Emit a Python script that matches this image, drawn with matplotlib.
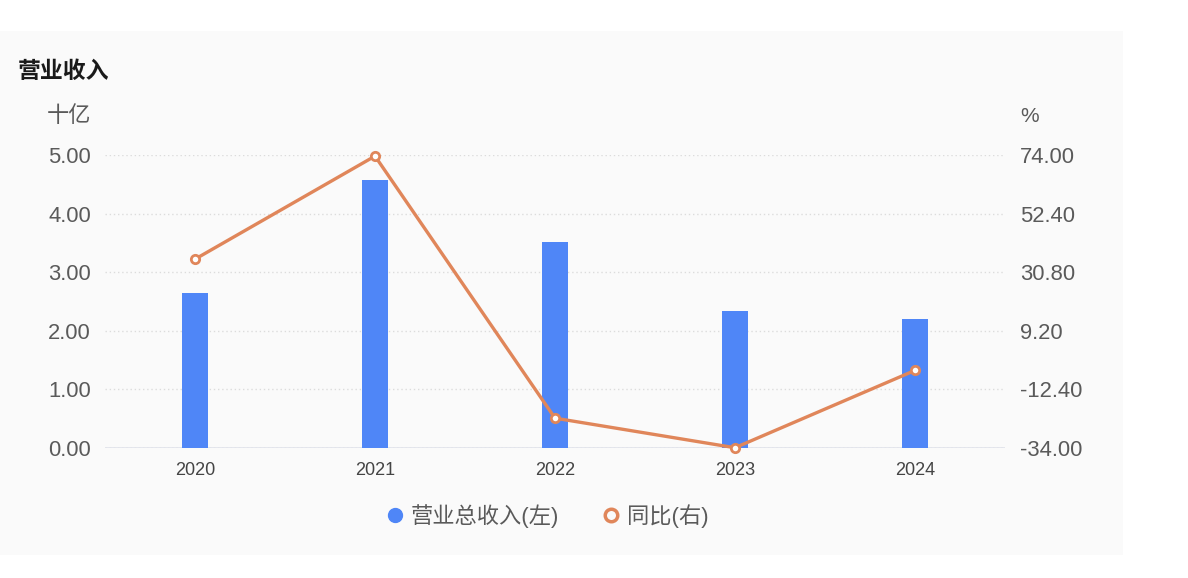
import matplotlib.pyplot as plt
import matplotlib.patches as mpatches
from matplotlib.lines import Line2D

plt.rcParams['font.family'] = ['Liberation Sans', 'Noto Sans CJK SC', 'DejaVu Sans']

years = ['2020', '2021', '2022', '2023', '2024']
revenue = [2.65, 4.58, 3.52, 2.33, 2.20]       # 十亿
yoy = [35.6, 73.6, -23.0, -33.9, -5.4]          # %

left_ticks = [0, 1, 2, 3, 4, 5]
right_ticks = [-34.0, -12.4, 9.2, 30.8, 52.4, 74.0]

bar_color = '#4f86f7'
line_color = '#e0865a'
text_color = '#5a5a5a'

fig = plt.figure(figsize=(11.88, 5.78), dpi=100)
fig.patch.set_facecolor('white')
# light panel behind the chart
fig.add_artist(mpatches.Rectangle((0, 1 - 555 / 578), 1123 / 1188, (555 - 31) / 578,
                                  transform=fig.transFigure, facecolor='#fafafa',
                                  edgecolor='none', zorder=0))

ax = fig.add_axes([105 / 1188, 1 - 448 / 578, 900 / 1188, 293 / 578])
ax.set_facecolor('none')
x = list(range(len(years)))
ax.bar(x, revenue, width=0.145, color=bar_color, zorder=2)
ax.set_xlim(-0.5, len(years) - 0.5)
ax.set_ylim(0, 5)
ax.set_yticks(left_ticks)
ax.set_yticklabels([f"{v:.2f}" for v in left_ticks], fontsize=15.8, color=text_color)
ax.set_xticks(x)
ax.set_xticklabels(years, fontsize=13, color='#444444')
ax.tick_params(axis='both', length=0)
ax.tick_params(axis='y', pad=10)
ax.tick_params(axis='x', pad=10)
for s in ax.spines.values():
    s.set_visible(False)
ax.grid(axis='y', linestyle=(0, (1, 2)), color='#dcdcdc', linewidth=1, zorder=0)
ax.axhline(0, color='#e2e4ec', linewidth=2, zorder=1)

ax2 = ax.twinx()
ax2.plot(x, yoy, color=line_color, linewidth=2.4, marker='o', markersize=6,
         markerfacecolor='white', markeredgecolor=line_color, markeredgewidth=2,
         zorder=3, clip_on=False)
ax2.set_ylim(-34, 74)
ax2.set_yticks(right_ticks)
ax2.set_yticklabels([f"{v:.2f}" for v in right_ticks], fontsize=15.8, color=text_color)
ax2.tick_params(axis='y', length=0, pad=11)
for s in ax2.spines.values():
    s.set_visible(False)

fig.text(18 / 1188, 1 - 71 / 578, '营业收入', fontsize=16.5, fontweight='bold',
         color='#1a1a1a', va='center', ha='left')
fig.text(91 / 1188, 1 - 116 / 578, '十亿', fontsize=16, color=text_color,
         va='center', ha='right')
fig.text(1020 / 1188, 1 - 116 / 578, '%', fontsize=15, color=text_color,
         va='center', ha='left')

handles = [
    Line2D([], [], linestyle='none', marker='o', markersize=10, color=bar_color),
    Line2D([], [], linestyle='none', marker='o', markersize=9, markerfacecolor='none',
           markeredgecolor=line_color, markeredgewidth=2.5),
]
leg = fig.legend(handles, ['营业总收入(左)', '同比(右)'], loc='center',
                 bbox_to_anchor=(547.5 / 1188, 1 - 516 / 578), ncol=2, frameon=False,
                 fontsize=16, handlelength=0.8, handletextpad=0.3, columnspacing=1.95)
for t in leg.get_texts():
    t.set_color(text_color)

fig.savefig('out.png', dpi=100)
